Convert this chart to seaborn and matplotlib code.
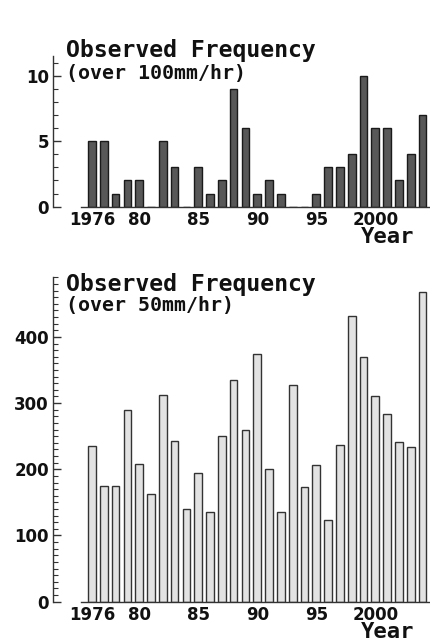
import matplotlib
matplotlib.use('Agg')
import matplotlib.pyplot as plt
from matplotlib.ticker import MultipleLocator, FixedLocator, FixedFormatter
import seaborn as sns
import pandas as pd

# ---------------- data ----------------
years = list(range(1976, 2005))
freq_over_100 = [5, 5, 1, 2, 2, 0, 5, 3, 0, 3,
                 1, 2, 9, 6, 1, 2, 1, 0, 0, 1,
                 3, 3, 4, 10, 6, 6, 2, 4, 7]
freq_over_50 = [235, 175, 175, 290, 208, 163, 312, 243, 140, 195,
                135, 250, 335, 260, 374, 200, 135, 327, 174, 207,
                123, 237, 432, 369, 311, 283, 241, 233, 468]
xtick_years = [1976, 1980, 1985, 1990, 1995, 2000]
xtick_labels = ['1976', '80', '85', '90', '95', '2000']
title_text = 'Observed Frequency'
top_subtitle = '(over 100mm/hr)'
bottom_subtitle = '(over 50mm/hr)'
xlabel_text = 'Year'

df_top = pd.DataFrame({'year': years, 'freq': freq_over_100})
df_bot = pd.DataFrame({'year': years, 'freq': freq_over_50})

sns.set_style('ticks')
plt.rcParams['font.family'] = ['DejaVu Sans']
plt.rcParams['hatch.linewidth'] = 0.5

W, H = 430, 642
fig = plt.figure(figsize=(W / 100, H / 100), dpi=100)

x_left, x_right = 1972.7, 2004.63
spine_start = 1975.1
axis_color = '#333333'


def px(x0, y0, w, h):
    return [x0 / W, 1 - (y0 + h) / H, w / W, h / H]


ax_top = fig.add_axes(px(53, 206.7 - 150.65, 377, 150.65))
ax_bot = fig.add_axes(px(53, 601.7 - 324.4, 377, 324.4))

sns.barplot(data=df_top, x='year', y='freq', native_scale=True, width=0.65,
            color='#585858', edgecolor='#1a1a1a', linewidth=1.0,
            saturation=1, ax=ax_top)
sns.barplot(data=df_bot, x='year', y='freq', native_scale=True, width=0.65,
            color='#e2e2e2', edgecolor='#333333', linewidth=1.0,
            saturation=1, ax=ax_bot)

for ax, ymax, major, minor in [(ax_top, 11.5, 5, 1), (ax_bot, 490, 100, 10)]:
    ax.set_xlim(x_left, x_right)
    ax.set_ylim(0, ymax)
    ax.set_xlabel('')
    ax.set_ylabel('')
    ax.spines['top'].set_visible(False)
    ax.spines['right'].set_visible(False)
    for s in ['left', 'bottom']:
        ax.spines[s].set_color(axis_color)
        ax.spines[s].set_linewidth(1.0)
    ax.spines['bottom'].set_bounds(spine_start, x_right)
    ax.spines['left'].set_bounds(0, ymax)
    ax.yaxis.set_major_locator(MultipleLocator(major))
    ax.yaxis.set_minor_locator(MultipleLocator(minor))
    ax.xaxis.set_major_locator(FixedLocator(xtick_years))
    ax.xaxis.set_major_formatter(FixedFormatter(xtick_labels))
    ax.xaxis.set_minor_locator(FixedLocator([]))
    ax.tick_params(axis='y', which='major', direction='in', length=6,
                   width=1.0, color=axis_color, labelsize=12, pad=3)
    ax.tick_params(axis='y', which='minor', direction='in', length=3.6,
                   width=0.8, color=axis_color)
    ax.tick_params(axis='x', which='major', direction='in', length=6,
                   width=1.0, color=axis_color, labelsize=12, pad=3)
    for lab in ax.get_xticklabels() + ax.get_yticklabels():
        lab.set_fontweight('bold')
        lab.set_color('#111111')
    ax.set_facecolor('white')

mono = ['DejaVu Sans Mono']
fig.text(66 / W, 1 - 50.7 / H, title_text, family=mono, fontsize=16.7,
         fontweight='bold', ha='left', va='center', color='#111111')
fig.text(66 / W, 1 - 73.3 / H, top_subtitle, family=mono, fontsize=14.3,
         fontweight='bold', ha='left', va='center', color='#111111')
fig.text(66 / W, 1 - 284 / H, title_text, family=mono, fontsize=16.7,
         fontweight='bold', ha='left', va='center', color='#111111')
fig.text(66 / W, 1 - 306 / H, bottom_subtitle, family=mono, fontsize=14.3,
         fontweight='bold', ha='left', va='center', color='#111111')
fig.text(388 / W, 1 - 237 / H, xlabel_text, family=mono, fontsize=16,
         fontweight='bold', ha='center', va='center', color='#111111')
fig.text(388 / W, 1 - 632 / H, xlabel_text, family=mono, fontsize=16,
         fontweight='bold', ha='center', va='center', color='#111111')

fig.savefig('out.png', dpi=100, facecolor='white')
